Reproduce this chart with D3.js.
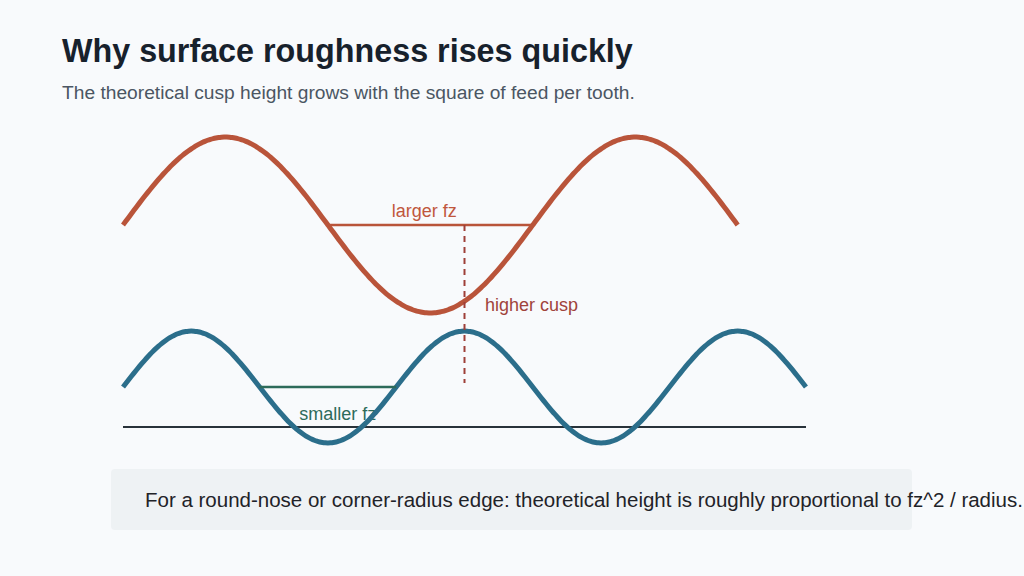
<!DOCTYPE html>
<html>
<head>
<meta charset="utf-8">
<script src="https://cdn.jsdelivr.net/npm/d3@7"></script>
<style>
  html, body { margin: 0; padding: 0; background: #f8fafc; }
  svg { display: block; font-family: "Liberation Sans", Arial, sans-serif; }
</style>
</head>
<body>
<svg id="chart" width="1024" height="576"></svg>
<script>
// wave names, feed per tooth (period), cusp amplitude, centre level, length
const waveNames = ['larger', 'smaller'];
const waveFeed = [3, 2];
const waveAmp = [88, 56];
const waveCentre = [245, 83];
const waveLength = [4.5, 5];
const waveColors = ['#b9543a', '#2b6e8b'];

// feed spans drawn between two zero crossings
const spanNames = ['larger fz', 'smaller fz'];
const spanFrom = [1.5, 1];
const spanTo = [3, 2];
const spanLevel = [245, 83];
const spanColors = ['#b9543a', '#2d6b5a'];

const baseLevel = 43;
const cuspX = 2.5;
const cuspFrom = 245;
const cuspTo = 87;

const svg = d3.select('#chart');
const width = 1024;
const height = 576;

svg.append('rect').attr('width', width).attr('height', height).attr('fill', '#f8fafc');

// Title
svg.append('text')
  .attr('x', 62).attr('y', 62)
  .attr('font-size', 32.3).attr('font-weight', 'bold')
  .attr('fill', '#17212c')
  .text('Why surface roughness rises quickly');
svg.append('text')
  .attr('x', 62).attr('y', 99)
  .attr('font-size', 19.2)
  .attr('fill', '#4b5663')
  .text('The theoretical cusp height grows with the square of feed per tooth.');

// Scales
const x = d3.scaleLinear().domain([0, 5]).range([123, 806]);
const y = d3.scaleLinear().domain([0, 350]).range([470, 120]);

const g = svg.append('g');

// Label that sits under the marks
g.append('text')
  .attr('x', x(1.29)).attr('y', y(50))
  .attr('font-size', 18)
  .attr('fill', spanColors[1])
  .text(spanNames[1]);

// Baseline
g.append('line')
  .attr('x1', x(0)).attr('x2', x(5))
  .attr('y1', y(baseLevel)).attr('y2', y(baseLevel))
  .attr('stroke', '#28323a')
  .attr('stroke-width', 2);

// Waves
const line = d3.line()
  .x((d) => x(d[0]))
  .y((d) => y(d[1]))
  .curve(d3.curveBasis);

waveNames.forEach((name, i) => {
  const pts = d3.range(0, waveLength[i] + 0.0001, 0.02).map((t) => [
    t,
    waveCentre[i] + waveAmp[i] * Math.sin((2 * Math.PI * t) / waveFeed[i]),
  ]);
  g.append('path')
    .attr('class', `wave-${name}`)
    .attr('d', line(pts))
    .attr('fill', 'none')
    .attr('stroke', waveColors[i])
    .attr('stroke-width', 5);
});

// Feed spans
spanNames.forEach((name, i) => {
  g.append('line')
    .attr('x1', x(spanFrom[i])).attr('x2', x(spanTo[i]))
    .attr('y1', y(spanLevel[i])).attr('y2', y(spanLevel[i]))
    .attr('stroke', spanColors[i])
    .attr('stroke-width', 2.5);
});

g.append('text')
  .attr('x', x((spanFrom[0] + spanTo[0]) / 2) - 6).attr('y', y(253))
  .attr('text-anchor', 'middle')
  .attr('font-size', 18)
  .attr('fill', '#c0573d')
  .text(spanNames[0]);

// Cusp marker
g.append('line')
  .attr('x1', x(cuspX)).attr('x2', x(cuspX))
  .attr('y1', y(cuspFrom)).attr('y2', y(cuspTo))
  .attr('stroke', '#9e3f38')
  .attr('stroke-width', 2)
  .style('stroke-dasharray', '6,5');

g.append('text')
  .attr('x', x(2.65)).attr('y', y(159))
  .attr('font-size', 18)
  .attr('fill', '#a0433b')
  .text('higher cusp');

// Note box
svg.append('rect')
  .attr('x', 111).attr('y', 469)
  .attr('width', 801).attr('height', 61)
  .attr('rx', 4)
  .attr('fill', '#eef2f4');
svg.append('text')
  .attr('x', 145).attr('y', 507)
  .attr('font-size', 20.5)
  .attr('fill', '#1f2328')
  .text('For a round-nose or corner-radius edge: theoretical height is roughly proportional to fz^2 / radius.');
</script>
</body>
</html>
